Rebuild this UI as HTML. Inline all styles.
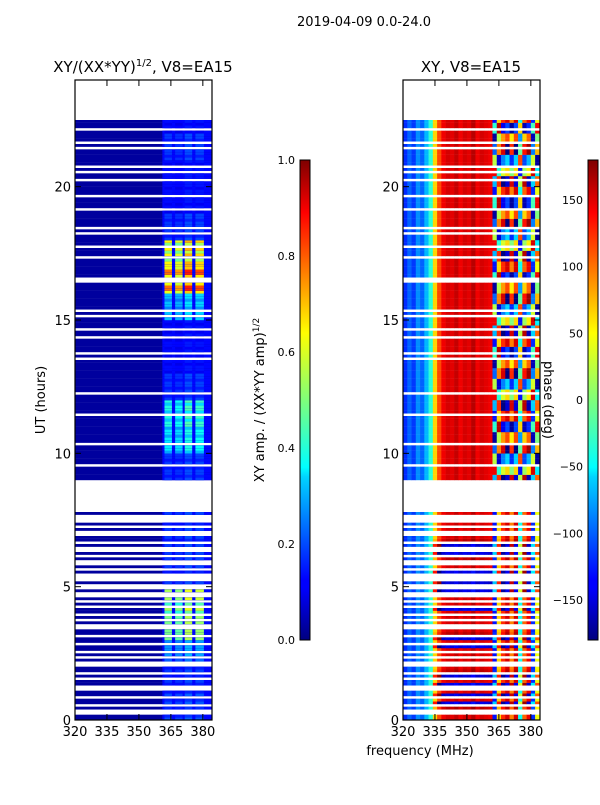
<!DOCTYPE html>
<html><head><meta charset="utf-8"><style>
body{margin:0;background:#fff;}
svg text{font-family:"DejaVu Sans","Liberation Sans",sans-serif;fill:#000;}
</style></head><body>
<svg id="fig" width="600" height="800" xmlns="http://www.w3.org/2000/svg">
<rect width="600" height="800" fill="#fff"/>
<text x="364" y="26" font-size="13" text-anchor="middle">2019-04-09 0.0-24.0</text>
<text x="143" y="72" font-size="15" text-anchor="middle">XY/(XX*YY)<tspan font-size="10" dy="-6">1/2</tspan><tspan dy="6">, V8=EA15</tspan></text>
<text x="471" y="72" font-size="15" text-anchor="middle">XY, V8=EA15</text>
<text transform="translate(45,400) rotate(-90)" font-size="13" text-anchor="middle">UT (hours)</text>
<text x="420" y="755" font-size="13" text-anchor="middle">frequency (MHz)</text>
<text transform="translate(264,400) rotate(-90)" font-size="13" text-anchor="middle">XY amp. / (XX*YY amp)<tspan font-size="9" dy="-5">1/2</tspan></text>
<g id="left"></g>
<g id="right"></g>
<g id="axes"></g>
<defs>
<linearGradient id="jetg" x1="0" y1="1" x2="0" y2="0">
<stop offset="0" stop-color="#00007f"/><stop offset="0.11" stop-color="#0000ff"/><stop offset="0.125" stop-color="#0000ff"/><stop offset="0.34" stop-color="#00d4ff"/><stop offset="0.36" stop-color="#0ff"/><stop offset="0.5" stop-color="#7fff7a"/><stop offset="0.64" stop-color="#ff0"/><stop offset="0.66" stop-color="#ffea00"/><stop offset="0.89" stop-color="#f00"/><stop offset="1" stop-color="#7f0000"/>
</linearGradient></defs>
<rect x="300" y="160" width="10" height="480" fill="url(#jetg)" stroke="#000" stroke-width="1"/>
<rect x="588" y="160" width="10" height="480" fill="url(#jetg)" stroke="#000" stroke-width="1"/>
<text transform="translate(544,400) rotate(90)" font-size="13" text-anchor="middle">phase (deg)</text>
</svg>
<script>
const hasData = [
"##..#.##.#","#..##.#.##","..#.#.##.#","#.##..#.#.","##.#.#..#.",".#...#.#..",
"#.#..#.##.",".#.#...#..","..........","#####.####","###.######","####.#####",
"##.#######","#####.#.##","###.##.###","#.#.######","####..####","###.###.##",
"##.#.#####","#.####.###","##.##.#.##","####.#.###","#.###.....",".........."];
const ampByHour = [0.22,0.2,0.3,0.55,0.6,0.2,0.2,0.2,0,0.2,0.4,0.45,0.2,0.15,0.15,0.35,0.85,0.7,0.2,0.15,0.15,0.2,0.15,0];
const bandStart = [362,367,371.5,376.5];
const bandEnd = [365.5,370.5,375,380.5];
const bandGain = [0.9,0.85,1.0,0.95];
const phaseProfile = [-120,-100,-115,-85,-100,-70,-30,60,110,140,150,145,155,140,150,145,160,140,150,145,140,-130,60,120,150,90,150,-40,100,140,-120,40];
const shiftUpper = [0,60,-90,150,30,-40,100];
const shiftLower = [0,0,65,0,10,0,70];
const ampTicks = [0,0.2,0.4,0.6,0.8,1.0];
const phaseTicks = [-150,-100,-50,0,50,100,150];
const freqTicks = [320,335,350,365,380];
const timeTicks = [0,5,10,15,20];

const NS="http://www.w3.org/2000/svg";
const Y0=720,Y1=80,FMIN=320,FMAX=384.3;
const yOf=h=>Y0-(h/24)*(Y0-Y1);
const xL=f=>75+(f-FMIN)/(FMAX-FMIN)*137;
const xR=f=>403+(f-FMIN)/(FMAX-FMIN)*137;
function jet(v){v=Math.max(0,Math.min(1,v));
 const r=Math.min(4*v-1.5,-4*v+4.5),g=Math.min(4*v-0.5,-4*v+3.5),b=Math.min(4*v+0.5,-4*v+2.5);
 const c=x=>Math.round(255*Math.max(0,Math.min(1,x)));return `rgb(${c(r)},${c(g)},${c(b)})`;}
function mk(p,tag,a){const e=document.createElementNS(NS,tag);for(const k in a)e.setAttribute(k,a[k]);p.appendChild(e);return e;}
const L=document.getElementById('left'),R=document.getElementById('right'),A=document.getElementById('axes');
const rh=(Y0-Y1)/240;
for(let i=0;i<240;i++){
 const h=Math.floor(i/10);if(hasData[h][i%10]!=='#')continue;
 const t=i/10,y=yOf(t+0.1);
 let bg=mk(L,'rect',{x:xL(320),y:y,width:xL(FMAX)-xL(320),height:rh+0.2,fill:jet(0.03)});
 
 let bb=mk(L,'rect',{x:xL(361),y:y,width:xL(FMAX)-xL(361),height:rh+0.2,fill:jet(0.13)});
 
 for(let b=0;b<bandStart.length;b++){
  const v=ampByHour[h]*bandGain[b]*((i%3===1)?0.8:1);
  const r=mk(L,'rect',{x:xL(bandStart[b]),y:y,width:xL(bandEnd[b])-xL(bandStart[b]),height:rh+0.2,fill:jet(v)});
  
 }
 for(let b=0;b<phaseProfile.length;b++){
  let p=phaseProfile[b];
  if(t>=9){ if(b>=21)p+=shiftUpper[Math.floor(i/4)%shiftUpper.length]; }
  else if(b>=7) p+=shiftLower[i%shiftLower.length];
  p=((p+180)%360+360)%360-180;
  const r=mk(R,'rect',{x:xR(320+2*b),y:y,width:xR(322+2*b)-xR(320+2*b)+0.3,height:rh+0.2,fill:jet((p+180)/360)});
  
 }
}
for(const x0 of [75,403]){
 const fr=mk(A,'rect',{x:x0,y:80,width:137,height:640,fill:'none',stroke:'#000','stroke-width':1.2});
 
 for(const f of freqTicks){const x=(x0===75?xL(f):xR(f));
  mk(A,'line',{x1:x,x2:x,y1:720,y2:714,stroke:'#000'});mk(A,'line',{x1:x,x2:x,y1:80,y2:86,stroke:'#000'});
  const tx=mk(A,'text',{x:x,y:736,'font-size':13,'text-anchor':'middle'});tx.textContent=f;
  }
 for(const h of timeTicks){const y=yOf(h);
  mk(A,'line',{x1:x0,x2:x0+6,y1:y,y2:y,stroke:'#000'});mk(A,'line',{x1:x0+137,x2:x0+131,y1:y,y2:y,stroke:'#000'});
  const tx=mk(A,'text',{x:x0-4,y:y+5,'font-size':13,'text-anchor':'end'});tx.textContent=h;
  }
}
for(const v of ampTicks){const y=640-v*480;
 mk(A,'line',{x1:300,x2:310,y1:y,y2:y,stroke:'#000'});
 const tx=mk(A,'text',{x:295,y:y+4,'font-size':11,'text-anchor':'end'});tx.textContent=v.toFixed(1);
 }
for(const v of phaseTicks){const y=400-v*480/360;
 mk(A,'line',{x1:588,x2:598,y1:y,y2:y,stroke:'#000'});
 const tx=mk(A,'text',{x:583,y:y+4,'font-size':11,'text-anchor':'end'});tx.textContent=(v<0?'\u2212':'')+Math.abs(v);
 }
</script>
</body></html>
